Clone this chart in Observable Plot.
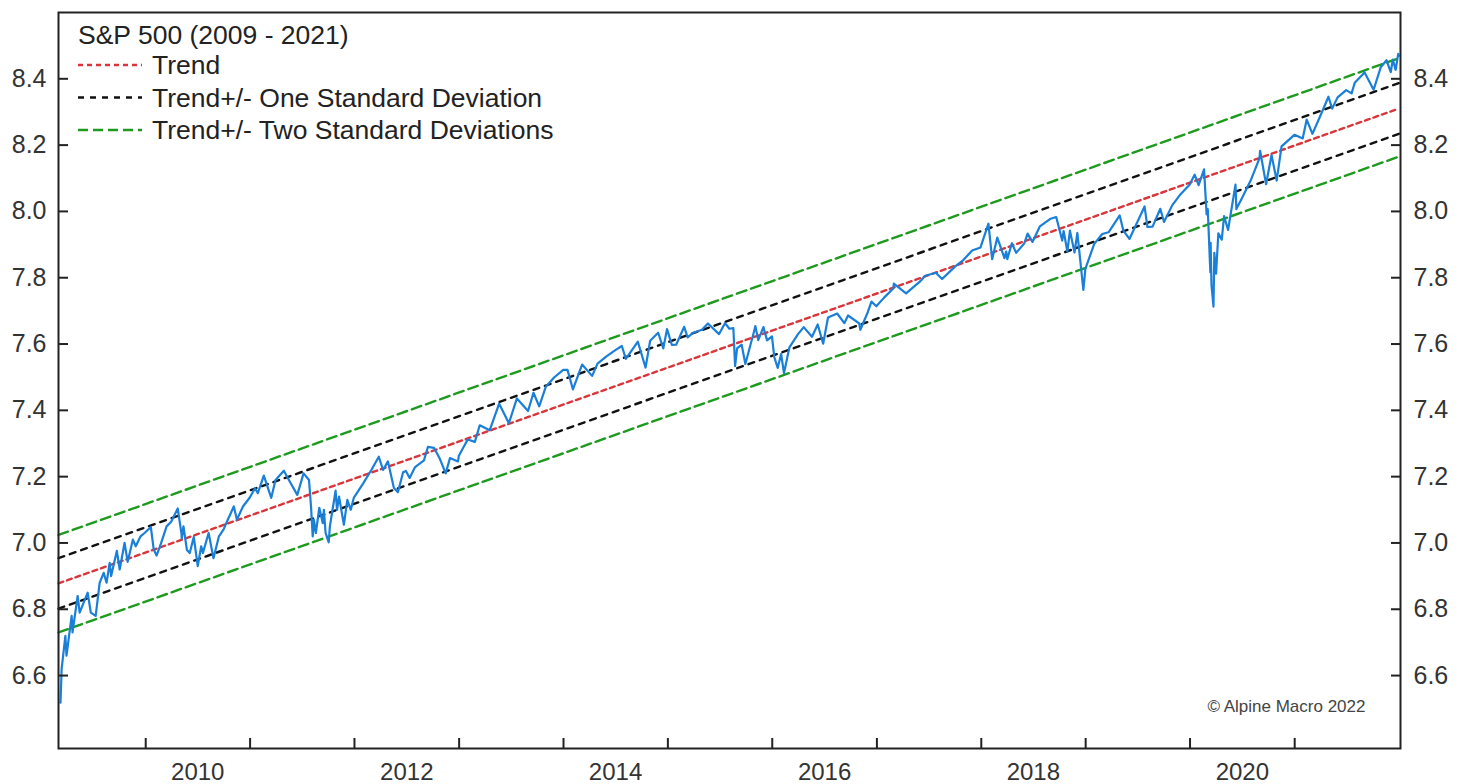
<!DOCTYPE html>
<html>
<head>
<meta charset="utf-8">
<script src="https://cdn.jsdelivr.net/npm/d3@7"></script>
<script src="https://cdn.jsdelivr.net/npm/@observablehq/plot@0.6"></script>
<style>
  html, body { margin: 0; padding: 0; background: #fff; }
  #wrap { position: relative; width: 1464px; height: 784px; font-family: "Liberation Sans", Arial, sans-serif; }
  #legend { position: absolute; left: 0; top: 0; pointer-events: none; }
</style>
</head>
<body>
<div id="wrap"></div>
<script>
// ---- Data (natural log of S&P 500 index level) ----
const spDates = [
"2009-03-09","2009-03-13","2009-03-26","2009-03-30","2009-04-17","2009-04-20","2009-05-08","2009-05-15","2009-06-12","2009-06-23",
"2009-07-10","2009-07-24","2009-08-07","2009-08-17","2009-08-28","2009-09-02","2009-09-22","2009-10-02","2009-10-19","2009-10-30",
"2009-11-17","2009-11-27","2009-12-14","2009-12-28",
"2010-01-19","2010-01-29","2010-02-08","2010-02-24","2010-03-15","2010-03-31","2010-04-23","2010-05-06","2010-05-07","2010-05-13",
"2010-05-25","2010-06-04","2010-06-18","2010-07-02","2010-07-14","2010-07-20","2010-08-09","2010-08-26","2010-09-14","2010-09-30",
"2010-10-15","2010-11-05","2010-11-16","2010-12-07","2010-12-31",
"2011-01-18","2011-01-28","2011-02-18","2011-03-16","2011-03-31","2011-04-29","2011-05-23","2011-06-15","2011-07-07","2011-07-26",
"2011-08-02","2011-08-08","2011-08-10","2011-08-12","2011-08-19","2011-08-31","2011-09-12","2011-09-16","2011-09-22","2011-10-03",
"2011-10-07","2011-10-27","2011-11-01","2011-11-08","2011-11-25","2011-12-07","2011-12-19","2011-12-30",
"2012-01-31","2012-02-29","2012-03-26","2012-04-10","2012-04-27","2012-05-18","2012-06-01","2012-06-19","2012-06-29","2012-07-12",
"2012-07-31","2012-08-31","2012-09-14","2012-10-05","2012-10-26","2012-11-15","2012-11-30","2012-12-28","2012-12-31",
"2013-01-31","2013-02-25","2013-03-14","2013-04-18","2013-05-21","2013-06-24","2013-07-22","2013-08-30","2013-09-18","2013-10-08",
"2013-10-31","2013-11-29","2013-12-31",
"2014-01-15","2014-02-03","2014-03-07","2014-04-11","2014-04-30","2014-05-30","2014-06-30","2014-07-24","2014-08-07","2014-09-18",
"2014-10-15","2014-10-31","2014-11-28","2014-12-16","2014-12-29",
"2015-01-15","2015-01-30","2015-02-27","2015-03-11","2015-03-31","2015-04-30","2015-05-21","2015-06-29","2015-07-20","2015-08-04",
"2015-08-18","2015-08-24","2015-08-31","2015-09-16","2015-09-29","2015-10-30","2015-11-03","2015-11-13","2015-12-01","2015-12-14",
"2015-12-31",
"2016-01-08","2016-01-20","2016-02-01","2016-02-11","2016-03-01","2016-03-31","2016-04-20","2016-05-19","2016-06-08","2016-06-27",
"2016-07-14","2016-08-15","2016-09-09","2016-09-22","2016-10-31","2016-11-04","2016-11-30","2016-12-13","2016-12-30",
"2017-01-26","2017-02-28","2017-03-01","2017-04-13","2017-05-31","2017-06-19","2017-07-26","2017-08-17","2017-09-29","2017-10-31",
"2017-11-30","2017-12-29",
"2018-01-26","2018-02-08","2018-02-26","2018-03-23","2018-03-29","2018-04-02","2018-04-18","2018-05-03","2018-05-31","2018-06-12",
"2018-06-29","2018-07-25","2018-08-29","2018-09-20","2018-10-11","2018-10-16","2018-10-29","2018-11-07","2018-11-23","2018-12-03",
"2018-12-24","2018-12-31",
"2019-01-31","2019-02-28","2019-03-22","2019-04-30","2019-05-13","2019-06-03","2019-07-26","2019-08-05","2019-08-23","2019-09-19",
"2019-10-02","2019-10-31","2019-11-29","2019-12-31",
"2020-01-17","2020-01-31","2020-02-19","2020-02-28","2020-03-03","2020-03-12","2020-03-13","2020-03-16","2020-03-23","2020-03-26",
"2020-04-01","2020-04-09","2020-04-21","2020-04-29","2020-05-13","2020-06-08","2020-06-11","2020-06-30","2020-07-31","2020-08-31",
"2020-09-02","2020-09-23","2020-10-12","2020-10-30","2020-11-16","2020-12-31",
"2021-01-29","2021-02-12","2021-03-04","2021-03-31","2021-04-29","2021-05-12","2021-05-31","2021-06-30","2021-07-19","2021-07-30",
"2021-08-31","2021-09-02","2021-10-04","2021-10-29","2021-11-18","2021-11-30","2021-12-03","2021-12-10","2021-12-20","2021-12-29",
"2021-12-31"
];
const spValues = [
6.518,6.620,6.720,6.660,6.780,6.730,6.840,6.790,6.850,6.790,
6.780,6.880,6.910,6.880,6.940,6.900,6.976,6.920,7.000,6.943,
7.010,6.990,7.020,7.030,
7.048,6.980,6.962,7.000,7.050,7.064,7.104,7.028,7.013,7.050,
6.979,6.970,7.018,6.930,6.990,6.970,7.030,6.954,7.020,7.040,
7.070,7.110,7.070,7.110,7.137,
7.165,7.150,7.203,7.136,7.190,7.218,7.180,7.145,7.210,7.190,
7.110,7.020,7.040,7.070,7.030,7.106,7.060,7.100,7.030,7.002,
7.050,7.158,7.100,7.140,7.055,7.130,7.100,7.137,
7.179,7.220,7.260,7.220,7.246,7.166,7.153,7.213,7.217,7.196,
7.229,7.249,7.290,7.287,7.253,7.210,7.256,7.246,7.263,
7.312,7.305,7.355,7.340,7.420,7.361,7.436,7.398,7.453,7.412,
7.471,7.499,7.522,
7.522,7.463,7.538,7.504,7.541,7.562,7.581,7.594,7.555,7.607,
7.529,7.610,7.634,7.587,7.645,
7.597,7.598,7.652,7.620,7.634,7.643,7.662,7.630,7.663,7.646,
7.648,7.533,7.587,7.598,7.540,7.640,7.654,7.612,7.651,7.611,
7.623,
7.561,7.528,7.570,7.512,7.590,7.630,7.651,7.622,7.659,7.601,
7.680,7.692,7.663,7.686,7.662,7.643,7.696,7.728,7.714,
7.740,7.768,7.782,7.753,7.788,7.806,7.815,7.796,7.832,7.854,
7.882,7.891,
7.963,7.856,7.921,7.859,7.879,7.856,7.904,7.875,7.903,7.933,
7.908,7.955,7.977,7.983,7.912,7.941,7.879,7.942,7.876,7.935,
7.763,7.827,
7.902,7.932,7.937,7.988,7.942,7.917,8.015,7.953,7.954,8.008,
7.968,8.019,8.052,8.081,
8.111,8.079,8.127,7.991,8.007,7.817,7.905,7.778,7.713,7.875,
7.812,7.934,7.915,7.986,7.944,8.081,8.007,8.039,8.093,8.161,
8.183,8.082,8.170,8.093,8.196,8.231,
8.220,8.277,8.234,8.287,8.346,8.310,8.344,8.366,8.356,8.388,
8.417,8.420,8.367,8.435,8.456,8.427,8.420,8.458,8.427,8.475,
8.469
];

const yTicks = [6.6, 6.8, 7.0, 7.2, 7.4, 7.6, 7.8, 8.0, 8.2, 8.4];
const xTickYears = [2010, 2011, 2012, 2013, 2014, 2015, 2016, 2017, 2018, 2019, 2020, 2021];
const xLabelYears = [2010, 2012, 2014, 2016, 2018, 2020];

// Trend channel endpoints (start of chart, end of data)
const bandDates = ["2009-03-02", "2021-12-31"];
const trendValues = [6.878, 8.310];
const upper1Values = [6.954, 8.387];
const lower1Values = [6.802, 8.234];
const upper2Values = [7.024, 8.462];
const lower2Values = [6.730, 8.165];

const titleText = "S&P 500 (2009 - 2021)";
const legendLabels = ["Trend", "Trend+/- One Standard Deviation", "Trend+/- Two Standard Deviations"];
const creditText = "\u00A9 Alpine Macro 2022";

// ---- Build tables ----
const series = spDates.map((d, i) => ({date: new Date(d + "T00:00:00Z"), value: spValues[i]}));
const mkBand = vals => bandDates.map((d, i) => ({date: new Date(d + "T00:00:00Z"), value: vals[i]}));
const tickDates = xTickYears.map(y => new Date(Date.UTC(y, 0, 1)));
const labelDates = xLabelYears.map(y => new Date(Date.UTC(y, 6, 2)));

const RED = "#d9363b", BLACK = "#111111", GREEN = "#1e9a1e", BLUE = "#1a7fd8";
const FONT = "'Liberation Sans', Arial, sans-serif";

const chart = Plot.plot({
  width: 1464,
  height: 784,
  marginLeft: 58,
  marginRight: 64,
  marginTop: 12,
  marginBottom: 36,
  style: {fontFamily: FONT, background: "#fff", color: "#333", overflow: "visible"},
  x: {type: "utc", domain: [new Date("2009-03-02T00:00:00Z"), new Date("2022-01-06T00:00:00Z")], label: null},
  y: {domain: [6.38, 8.6], label: null},
  marks: [
    Plot.line(mkBand(upper2Values), {x: "date", y: "value", stroke: GREEN, strokeWidth: 2.4, strokeDasharray: "10,5"}),
    Plot.line(mkBand(lower2Values), {x: "date", y: "value", stroke: GREEN, strokeWidth: 2.4, strokeDasharray: "10,5"}),
    Plot.line(mkBand(upper1Values), {x: "date", y: "value", stroke: BLACK, strokeWidth: 2.4, strokeDasharray: "6,6"}),
    Plot.line(mkBand(lower1Values), {x: "date", y: "value", stroke: BLACK, strokeWidth: 2.4, strokeDasharray: "6,6"}),
    Plot.line(mkBand(trendValues), {x: "date", y: "value", stroke: RED, strokeWidth: 2.4, strokeDasharray: "5,4"}),
    Plot.line(series, {x: "date", y: "value", stroke: BLUE, strokeWidth: 2.2, clip: true}),
    Plot.frame({stroke: "#222", strokeWidth: 2}),
    // left axis: labels + inward ticks
    Plot.axisY(yTicks, {anchor: "left", tickSize: 0, tickPadding: 12, tickFormat: ".1f", fontSize: 25, fill: "#333", label: null}),
    Plot.axisY(yTicks, {anchor: "left", tickSize: 10, dx: 10, text: null, stroke: "#222", strokeWidth: 2, label: null}),
    // right axis
    Plot.axisY(yTicks, {anchor: "right", tickSize: 0, tickPadding: 13, tickFormat: ".1f", fontSize: 25, fill: "#333", label: null}),
    Plot.axisY(yTicks, {anchor: "right", tickSize: 10, dx: -10, text: null, stroke: "#222", strokeWidth: 2, label: null}),
    // bottom axis: year-boundary ticks + mid-year labels
    Plot.axisX(tickDates, {anchor: "bottom", tickSize: 10, dy: -10, text: null, stroke: "#222", strokeWidth: 2, label: null}),
    Plot.axisX(labelDates, {anchor: "bottom", tickSize: 0, tickPadding: 14, tickFormat: d => String(d.getUTCFullYear()), fontSize: 24, fill: "#333", label: null}),
    Plot.text([creditText], {frameAnchor: "bottom-right", dx: -35, dy: -37, text: d => d, fontSize: 17, fill: "#444", textAnchor: "end"})
  ]
});

const wrap = document.getElementById("wrap");
wrap.appendChild(chart);

// ---- Legend overlay (inside the plot frame, top-left) ----
const ns = "http://www.w3.org/2000/svg";
const lg = document.createElementNS(ns, "svg");
lg.setAttribute("id", "legend");
lg.setAttribute("width", 1464);
lg.setAttribute("height", 784);
const legendStyles = [
  {stroke: RED, dash: "5,4"},
  {stroke: BLACK, dash: "6,6"},
  {stroke: GREEN, dash: "10,5"}
];
function addText(x, y, s) {
  const t = document.createElementNS(ns, "text");
  t.setAttribute("x", x);
  t.setAttribute("y", y);
  t.setAttribute("font-family", FONT);
  t.setAttribute("font-size", 26.5);
  t.setAttribute("fill", "#222");
  t.setAttribute("dominant-baseline", "central");
  t.textContent = s;
  lg.appendChild(t);
}
addText(78, 35, titleText);
legendLabels.forEach((lab, i) => {
  const y = 65 + i * 32.5;
  const l = document.createElementNS(ns, "line");
  l.setAttribute("x1", 78); l.setAttribute("x2", 142);
  l.setAttribute("y1", y); l.setAttribute("y2", y);
  l.setAttribute("stroke", legendStyles[i].stroke);
  l.setAttribute("stroke-width", 2.4);
  l.setAttribute("stroke-dasharray", legendStyles[i].dash);
  lg.appendChild(l);
  addText(152, y, lab);
});
wrap.appendChild(lg);
</script>
</body>
</html>
